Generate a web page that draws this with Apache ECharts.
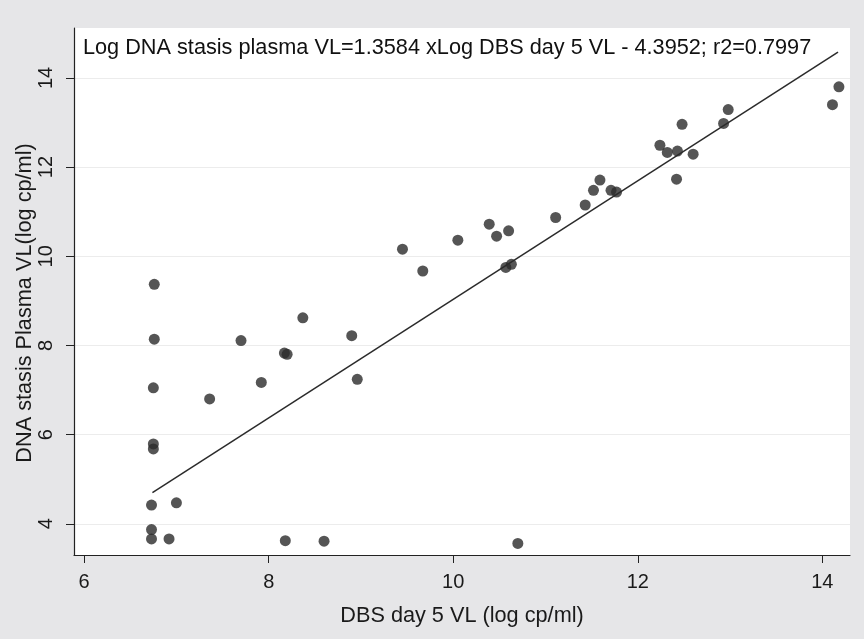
<!DOCTYPE html>
<html>
<head>
<meta charset="utf-8">
<script src="https://cdn.jsdelivr.net/npm/echarts@6/dist/echarts.min.js"></script>
<style>
html,body{margin:0;padding:0;background:#e6e6e8;}
#chart{width:864px;height:639px;}
</style>
</head>
<body>
<div id="chart"></div>
<script>
// Data
var dbsDay5 = [6.76,6.76,6.75,6.75,6.75,6.73,7.00,6.73,6.73,6.92,7.36,7.70,7.92,8.17,8.20,8.37,8.90,8.96,8.18,8.60,
               9.67,9.45,10.05,10.39,10.47,10.60,10.57,10.63,11.11,11.43,11.52,11.59,11.71,11.77,12.24,12.32,12.43,12.42,
               12.48,12.60,12.93,12.98,14.11,14.18,10.70];
var plasmaVL = [9.37,8.14,7.05,5.79,5.68,4.42,4.47,3.87,3.66,3.66,6.80,8.11,7.17,7.83,7.80,8.62,8.22,7.24,3.62,3.61,
                9.67,10.16,10.36,10.72,10.45,10.57,9.75,9.82,10.87,11.15,11.48,11.71,11.48,11.44,12.49,12.33,12.36,11.73,
                12.96,12.29,12.98,13.29,13.40,13.80,3.56];
var fitX = [6.74, 14.17];
var fitY = [4.70, 14.58];
var xTicks = [6, 8, 10, 12, 14];
var yTicks = [4, 6, 8, 10, 12, 14];
var equationText = 'Log DNA stasis plasma VL=1.3584 xLog DBS day 5 VL - 4.3952; r2=0.7997';
var xName = 'DBS day 5 VL (log cp/ml)';
var yName = 'DNA stasis Plasma VL(log cp/ml)';

var points = dbsDay5.map(function(x, i){ return [x, plasmaVL[i]]; });
var fitLine = fitX.map(function(x, i){ return [x, fitY[i]]; });

var FONT = 'Liberation Sans, Arial, sans-serif';
var chart = echarts.init(document.getElementById('chart'));
chart.setOption({
  backgroundColor: '#e6e6e8',
  animation: false,
  grid: {left: 74, right: 14, top: 28, bottom: 84, show: true, backgroundColor: '#ffffff', borderWidth: 0},
  xAxis: {
    type: 'value', min: 5.89, max: 14.30,
    name: xName, nameLocation: 'middle', nameGap: 50,
    nameTextStyle: {fontFamily: FONT, fontSize: 21.7, color: '#1a1a1a'},
    axisLine: {show: true, onZero: false, lineStyle: {color: '#222', width: 1.2}},
    axisTick: {show: true, length: 8, customValues: xTicks, lineStyle: {color: '#222'}},
    axisLabel: {customValues: xTicks, margin: 17, fontFamily: FONT, fontSize: 20, color: '#1a1a1a'},
    splitLine: {show: false}
  },
  yAxis: {
    type: 'value', min: 3.30, max: 15.12,
    axisLine: {show: true, onZero: false, lineStyle: {color: '#222', width: 1.2}},
    axisTick: {show: true, length: 8, customValues: yTicks, lineStyle: {color: '#222'}},
    axisLabel: {customValues: yTicks, rotate: 90, margin: 18, fontFamily: FONT, fontSize: 20, color: '#1a1a1a'},
    splitLine: {show: true, customValues: yTicks, lineStyle: {color: '#ececec', width: 1}}
  },
  graphic: [{
    type: 'text', left: 83, top: 37,
    style: {text: equationText, font: '21.7px ' + FONT, fill: '#111'}
  }, {
    type: 'text', x: 25, y: 303, rotation: Math.PI / 2,
    style: {text: yName, font: '21.7px ' + FONT, fill: '#1a1a1a', align: 'center', verticalAlign: 'middle'}
  }],
  series: [
    {type: 'scatter', data: points, symbol: 'circle', symbolSize: 11,
     itemStyle: {color: '#2b2b2b'}},
    {type: 'line', data: fitLine, symbol: 'none',
     lineStyle: {color: '#2b2b2b', width: 1.5}}
  ]
});
</script>
</body>
</html>
